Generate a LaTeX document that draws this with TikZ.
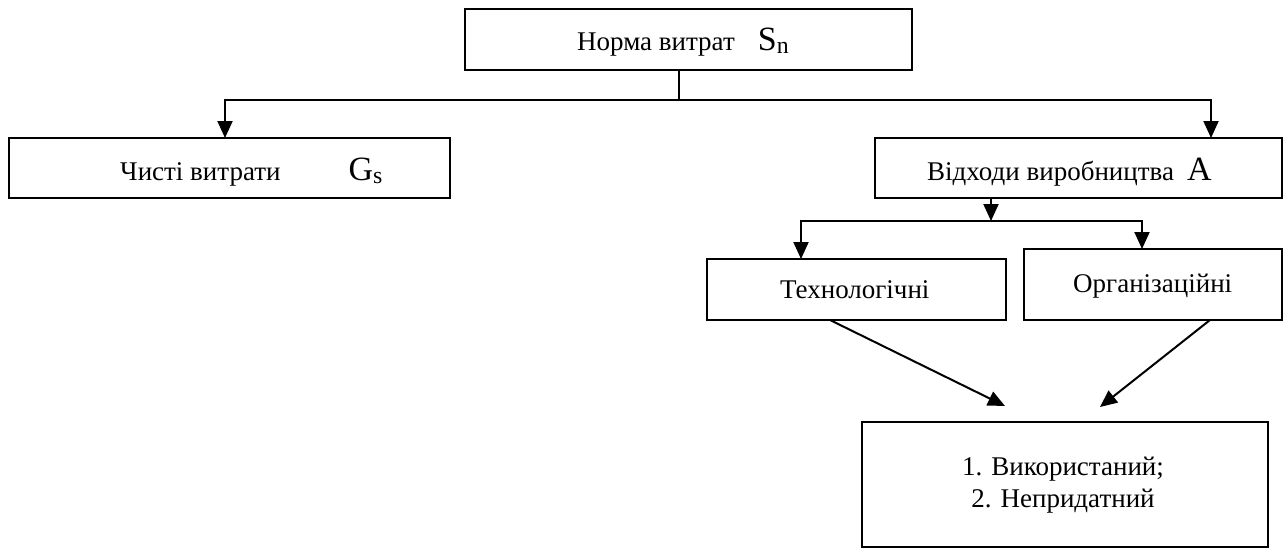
\documentclass[tikz,border=0pt]{standalone}
\usepackage{fontspec}
\setmainfont{Liberation Serif}
\usetikzlibrary{arrows.meta}

\newcommand{\bigsym}[1]{{\fontsize{34}{40}\selectfont #1}}

\begin{document}
\begin{tikzpicture}[x=1pt,y=-1pt,
  box/.style={draw,line width=2.2pt,inner sep=0pt,outer sep=0pt},
  txt/.style={anchor=base west,inner sep=0pt,font=\fontsize{27}{32}\selectfont},
  ln/.style={line width=2pt},
  arr/.style={line width=2pt,-{Triangle[length=17pt,width=15pt]}}]

\useasboundingbox (0,0) rectangle (1288,549);

% boxes
\node[box,minimum width=447pt,minimum height=61pt] (norma) at (688.5,39.5) {};
\node[box,minimum width=441pt,minimum height=60pt] (chysti) at (229.5,168) {};
\node[box,minimum width=407pt,minimum height=60pt] (vidkh) at (1078.5,168) {};
\node[box,minimum width=299pt,minimum height=61pt] (tekh) at (856.5,289.5) {};
\node[box,minimum width=258pt,minimum height=71pt] (org) at (1153,284.5) {};
\node[box,minimum width=406pt,minimum height=125pt] (result) at (1065,484.5) {};

% texts
\node[txt] (normatxt) at (577,50) {Норма витрат\hspace{23pt}\bigsym{S\textsubscript{n}}};
\node[txt] (chystitxt) at (120,180) {Чисті витрати\hspace{68pt}\bigsym{G\textsubscript{s}}};
\node[txt] (vidkhtxt) at (927,180) {Відходи виробництва\hspace{13pt}\bigsym{A}};
\node[txt] (tekhtxt) at (780,298) {Технологічні};
\node[txt] (orgtxt) at (1073,292) {Організаційні};
\node[align=center,inner sep=0pt,font=\fontsize{27}{32}\selectfont] (resulttxt) at (1063,485)
  {1. Використаний;\\2. Непридатний};

% joints
\coordinate (split) at (679,100);
\coordinate (lj) at (225,100);
\coordinate (rj) at (1211,100);
\coordinate (vstem) at (991,221);
\coordinate (tj) at (801,221);
\coordinate (oj) at (1142,221);
\coordinate (tfoot) at (830,0);
\coordinate (ofoot) at (1210,0);
\coordinate (tend) at (1005,406);
\coordinate (oend) at (1100,407);

% first level
\draw[ln] (norma.south -| split) -- (split);
\draw[arr] (split) -- (lj) -- (lj |- chysti.north);
\draw[arr] (split) -- (rj) -- (rj |- vidkh.north);

% second level
\draw[arr] (vidkh.south -| vstem) -- (vstem);
\draw[arr] (vstem) -- (tj) -- (tj |- tekh.north);
\draw[arr] (vstem) -- (oj) -- (oj |- org.north);

% to result
\draw[arr] (tekh.south -| tfoot) -- (tend);
\draw[arr] (org.south -| ofoot) -- (oend);

\end{tikzpicture}
\end{document}
